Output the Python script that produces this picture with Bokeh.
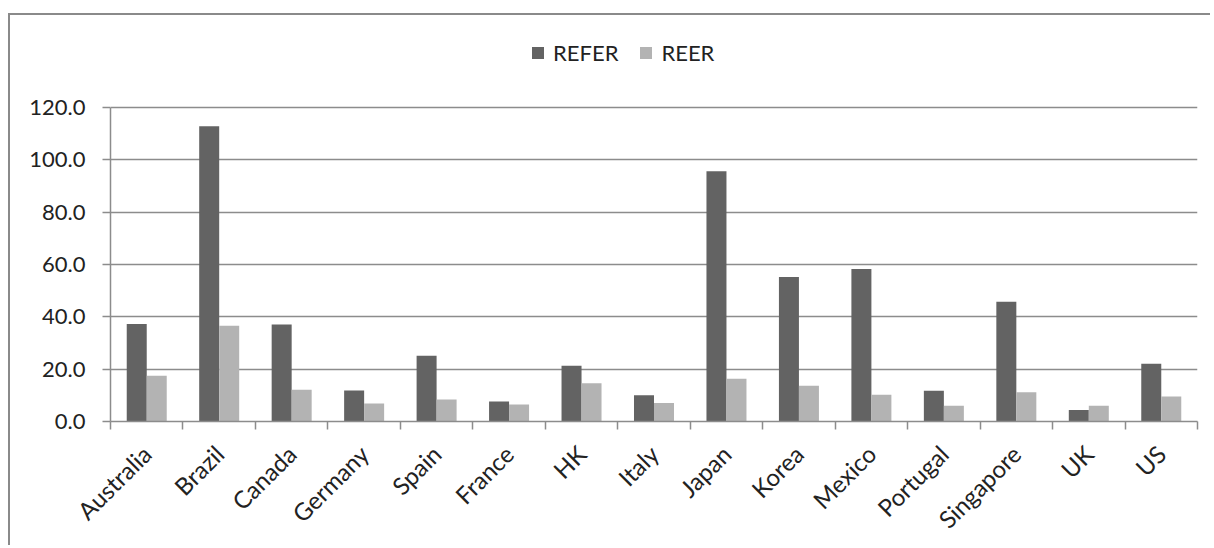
import math
from bokeh.plotting import figure
from bokeh.models import (ColumnDataSource, Range1d, FixedTicker, NumeralTickFormatter,
                          Legend, LegendItem)
from bokeh.transform import dodge
from bokeh.embed import file_html
from bokeh.resources import INLINE

countries = ["Australia", "Brazil", "Canada", "Germany", "Spain", "France", "HK", "Italy",
             "Japan", "Korea", "Mexico", "Portugal", "Singapore", "UK", "US"]
refer = [37.2, 112.8, 37.0, 11.8, 25.1, 7.6, 21.3, 10.0, 95.6, 55.2, 58.2, 11.7, 45.7, 4.4, 22.1]
reer = [17.5, 36.6, 12.1, 6.9, 8.4, 6.5, 14.6, 7.1, 16.3, 13.7, 10.2, 6.0, 11.2, 6.0, 9.5]
y_ticks = [0, 20, 40, 60, 80, 100, 120]

FONT = "Lato"
GRID = "#8c8c8c"
TXT = "#222222"

n = len(countries)
xs = [i + 0.5 for i in range(n)]
src = ColumnDataSource(dict(x=xs, refer=refer, reer=reer))

# frame extends above 120 to host the legend; axis/grid limited to 0..120
p = figure(width=1202, height=532,
           x_range=Range1d(0, n), y_range=Range1d(0, 155.05),
           output_backend="svg", toolbar_location=None,
           min_border_left=100, min_border_right=15, min_border_top=0, min_border_bottom=126,
           styles={"position": "absolute", "left": "8px", "top": "13px",
                   "border-left": "2px solid #8a8a8a", "border-top": "2px solid #8a8a8a"})
p.outline_line_color = None
p.background_fill_color = "white"
p.border_fill_color = "white"

r1 = p.vbar(x=dodge("x", -0.138, range=p.x_range), top="refer", width=0.276, source=src,
            fill_color="#636363", line_color=None)
r2 = p.vbar(x=dodge("x", 0.138, range=p.x_range), top="reer", width=0.276, source=src,
            fill_color="#b3b3b3", line_color=None)

xa = p.xaxis[0]
xa.ticker = FixedTicker(ticks=xs, minor_ticks=list(range(n + 1)))
xa.major_label_overrides = {x: c for x, c in zip(xs, countries)}
xa.major_label_orientation = math.pi / 4
xa.major_tick_line_color = None
xa.major_tick_out = 0
xa.major_tick_in = 0
xa.minor_tick_out = 8
xa.minor_tick_in = 0
xa.minor_tick_line_color = GRID
xa.minor_tick_line_width = 1.5
xa.axis_line_color = GRID
xa.axis_line_width = 1.5
xa.major_label_text_font = FONT
xa.major_label_text_font_size = "24px"
xa.major_label_text_color = TXT
xa.major_label_standoff = 20

ya = p.yaxis[0]
ya.ticker = FixedTicker(ticks=y_ticks)
ya.bounds = (0, 120)
ya.formatter = NumeralTickFormatter(format="0.0")
ya.major_tick_out = 8
ya.major_tick_in = 0
ya.minor_tick_line_color = None
ya.major_tick_line_color = GRID
ya.major_tick_line_width = 1.5
ya.axis_line_color = GRID
ya.axis_line_width = 1.5
ya.major_label_text_font = FONT
ya.major_label_text_font_size = "22px"
ya.major_label_text_color = TXT
ya.major_label_standoff = 17

p.xgrid.grid_line_color = None
p.ygrid.ticker = FixedTicker(ticks=y_ticks)
p.ygrid.grid_line_color = GRID
p.ygrid.grid_line_width = 1.5

legend = Legend(items=[LegendItem(label="REFER", renderers=[r1]),
                       LegendItem(label="REER", renderers=[r2])],
                orientation="horizontal", location=(420, 355),
                glyph_width=15, glyph_height=15, label_standoff=8, spacing=20,
                padding=0, margin=0, border_line_color=None, background_fill_alpha=0,
                label_text_font=FONT, label_text_font_size="22px", label_text_color=TXT)
p.add_layout(legend)

open("out.html", "w").write(file_html(p, INLINE))
